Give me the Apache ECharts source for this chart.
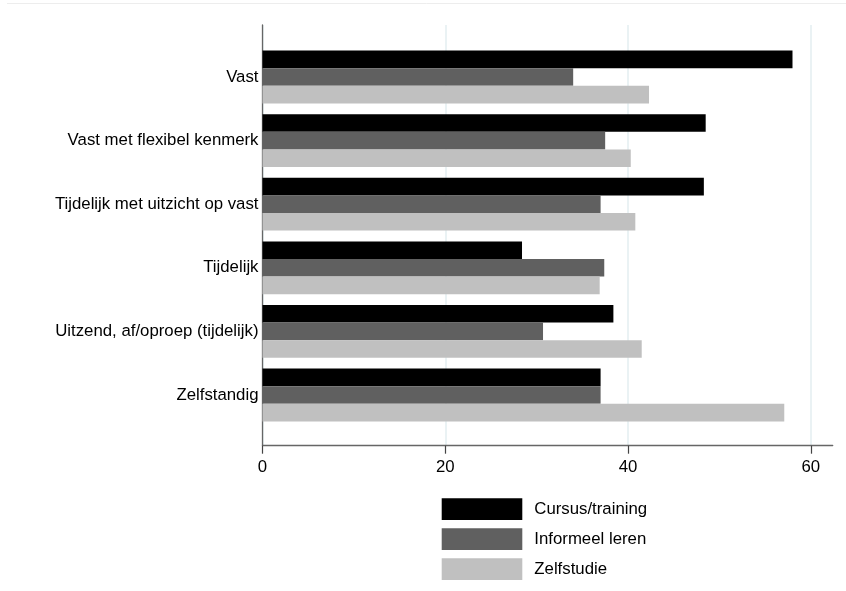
<!DOCTYPE html>
<html>
<head>
<meta charset="utf-8">
<script src="https://cdn.jsdelivr.net/npm/echarts@6/dist/echarts.min.js"></script>
<style>
html,body{margin:0;padding:0;background:#fff;}
#chart{width:846px;height:591px;}
</style>
</head>
<body>
<div id="chart"></div>
<script>
var categories = ['Vast', 'Vast met flexibel kenmerk', 'Tijdelijk met uitzicht op vast', 'Tijdelijk', 'Uitzend, af/oproep (tijdelijk)', 'Zelfstandig'];
var seriesNames = ['Cursus/training', 'Informeel leren', 'Zelfstudie'];
var cursus = [58.0, 48.5, 48.3, 28.4, 38.4, 37.0];
var informeel = [34.0, 37.5, 37.0, 37.4, 30.7, 37.0];
var zelfstudie = [42.3, 40.3, 40.8, 36.9, 41.5, 57.1];
var xTicks = [0, 20, 40, 60];
var colors = ['#000000', '#606060', '#c0c0c0'];

var FONT = 'Liberation Sans, Arial, sans-serif';
var FS = 16.8;
var xMax = 62.4;

var chart = echarts.init(document.getElementById('chart'), null, {renderer: 'canvas'});
var values = [cursus, informeel, zelfstudie];
var series = seriesNames.map(function (n, i) {
  return {
    name: n,
    type: 'bar',
    xAxisIndex: 1,
    yAxisIndex: 1,
    data: values[i],
    barGap: '0%',
    barCategoryGap: '17%',
    itemStyle: {color: colors[i]},
    animation: false
  };
});

chart.setOption({
  animation: false,
  backgroundColor: '#ffffff',
  graphic: [{
    type: 'line', silent: true, z: -1,
    shape: {x1: 7, y1: 3.5, x2: 846, y2: 3.5},
    style: {stroke: '#ededed', lineWidth: 1}
  }],
  grid: [
    {left: 262.5, right: 13.3, top: 25, bottom: 145.3, containLabel: false},
    {left: 262.5, right: 13.3, top: 45.2, bottom: 164.2, containLabel: false}
  ],
  xAxis: [
    {
      type: 'value', gridIndex: 0, min: 0, max: xMax, interval: 20,
      axisLine: {show: true, lineStyle: {color: '#666666', width: 1.3}},
      axisTick: {show: true, length: 8, lineStyle: {color: '#444444', width: 1.2},
        customValues: xTicks},
      axisLabel: {show: true, margin: 13, color: '#000', fontFamily: FONT, fontSize: FS,
        customValues: xTicks,
        formatter: function (v) { return xTicks.indexOf(v) >= 0 ? String(v) : ''; }},
      splitLine: {show: true, lineStyle: {color: '#e3eef0', width: 1.5}}
    },
    {
      type: 'value', gridIndex: 1, min: 0, max: xMax, interval: 20,
      show: false
    }
  ],
  yAxis: [
    {
      type: 'value', gridIndex: 0, min: 0, max: 1,
      axisLine: {show: true, lineStyle: {color: '#666666', width: 1.3}},
      axisTick: {show: false}, axisLabel: {show: false}, splitLine: {show: false}
    },
    {
      type: 'category', gridIndex: 1, data: categories, inverse: true,
      axisLine: {show: false}, axisTick: {show: false}, splitLine: {show: false},
      axisLabel: {show: true, margin: 4, color: '#000', fontFamily: FONT, fontSize: FS}
    }
  ],
  legend: {
    data: seriesNames,
    orient: 'vertical',
    left: 441.7,
    top: 498.3,
    padding: 0,
    itemWidth: 80.6,
    itemHeight: 21.8,
    itemGap: 8.2,
    icon: 'rect',
    selectedMode: false,
    textStyle: {color: '#000', fontFamily: FONT, fontSize: FS, padding: [0, 0, 0, 7]}
  },
  series: series
});
</script>
</body>
</html>
